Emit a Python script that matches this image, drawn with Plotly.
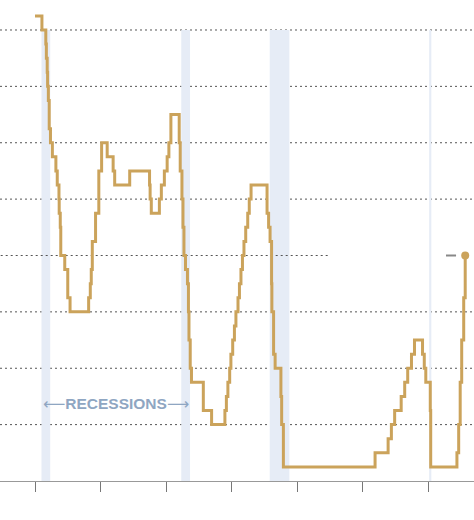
import plotly.graph_objects as go

# Federal funds target rate (upper bound), percent
dates = [
    "1990-01-01", "1990-07-13", "1990-10-29", "1990-11-13", "1990-12-07", "1990-12-18",
    "1991-01-08", "1991-02-01", "1991-03-08", "1991-04-30", "1991-08-06", "1991-09-13",
    "1991-10-31", "1991-11-06", "1991-12-06", "1991-12-20", "1992-04-09", "1992-07-02",
    "1992-09-04", "1994-02-04", "1994-03-22", "1994-04-18", "1994-05-17", "1994-08-16",
    "1994-11-15", "1995-02-01", "1995-07-06", "1995-12-19", "1996-01-31", "1997-03-25",
    "1998-09-29", "1998-10-15", "1998-11-17", "1999-06-30", "1999-08-24", "1999-11-16",
    "2000-02-02", "2000-03-21", "2000-05-16", "2001-01-03", "2001-01-31", "2001-03-20",
    "2001-04-18", "2001-05-15", "2001-06-27", "2001-08-21", "2001-09-17", "2001-10-02",
    "2001-11-06", "2001-12-11", "2002-11-06", "2003-06-25", "2004-06-30", "2004-08-10",
    "2004-09-21", "2004-11-10", "2004-12-14", "2005-02-02", "2005-03-22", "2005-05-03",
    "2005-06-30", "2005-08-09", "2005-09-20", "2005-11-01", "2005-12-13", "2006-01-31",
    "2006-03-28", "2006-05-10", "2006-06-29", "2007-09-18", "2007-10-31", "2007-12-11",
    "2008-01-22", "2008-01-30", "2008-03-18", "2008-04-30", "2008-10-08", "2008-10-29",
    "2008-12-16", "2015-12-16", "2016-12-14", "2017-03-15", "2017-06-14", "2017-12-13",
    "2018-03-21", "2018-06-13", "2018-09-26", "2018-12-19", "2019-07-31", "2019-09-18",
    "2019-10-30", "2020-03-03", "2020-03-15", "2022-03-16", "2022-05-04", "2022-06-15",
    "2022-07-27", "2022-09-21", "2022-11-02",
]
rates = [
    8.25, 8.0, 7.75, 7.5, 7.25, 7.0,
    6.75, 6.25, 6.0, 5.75, 5.5, 5.25,
    5.0, 4.75, 4.5, 4.0, 3.75, 3.25,
    3.0, 3.25, 3.5, 3.75, 4.25, 4.75,
    5.5, 6.0, 5.75, 5.5, 5.25, 5.5,
    5.25, 5.0, 4.75, 5.0, 5.25, 5.5,
    5.75, 6.0, 6.5, 6.0, 5.5, 5.0,
    4.5, 4.0, 3.75, 3.5, 3.0, 2.5,
    2.0, 1.75, 1.25, 1.0, 1.25, 1.5,
    1.75, 2.0, 2.25, 2.5, 2.75, 3.0,
    3.25, 3.5, 3.75, 4.0, 4.25, 4.5,
    4.75, 5.0, 5.25, 4.75, 4.5, 4.25,
    3.5, 3.0, 2.25, 2.0, 1.5, 1.0,
    0.25, 0.5, 0.75, 1.0, 1.25, 1.5,
    1.75, 2.0, 2.25, 2.5, 2.25, 2.0,
    1.75, 1.25, 0.25, 0.5, 1.0, 1.75,
    2.5, 3.25, 4.0,
]

recession_starts = ["1990-07-01", "2001-03-01", "2007-12-01", "2020-02-01"]
recession_ends = ["1991-03-01", "2001-11-01", "2009-06-01", "2020-04-01"]

grid_levels = [1, 2, 3, 4, 5, 6, 7, 8]
grid_ends = [None, None, None, "2012-05-15", None, None, None, None]
tick_years = ["1990-01-01", "1995-01-01", "2000-01-01", "2005-01-01",
              "2010-01-01", "2015-01-01", "2020-01-01"]

LINE = "#CBA35B"
BAND = "#E6ECF6"

fig = go.Figure()

fig.add_trace(go.Scatter(
    x=dates, y=rates, mode="lines", line=dict(color=LINE, width=3, shape="hv"),
    hoverinfo="skip", showlegend=False, cliponaxis=False,
))
fig.add_trace(go.Scatter(
    x=[dates[-1]], y=[rates[-1]], mode="markers",
    marker=dict(color=LINE, size=8), hoverinfo="skip", showlegend=False, cliponaxis=False,
))

shapes = []
for s, e in zip(recession_starts, recession_ends):
    shapes.append(dict(type="rect", xref="x", yref="y", x0=s, x1=e, y0=0, y1=8,
                       fillcolor=BAND, line=dict(width=0), layer="below"))
for lvl, end in zip(grid_levels, grid_ends):
    if end is None:
        shapes.append(dict(type="line", xref="paper", yref="y", x0=0, x1=1, y0=lvl, y1=lvl,
                           line=dict(color="#555555", width=1, dash="2px,3px"), layer="below"))
    else:
        shapes.append(dict(type="line", xref="x", yref="y", x0="1987-01-01", x1=end, y0=lvl, y1=lvl,
                           line=dict(color="#555555", width=1, dash="2px,3px"), layer="below"))
# small leader dash next to the latest value
shapes.append(dict(type="line", xref="x", yref="y", x0="2021-05-15", x1="2022-02-20",
                   y0=rates[-1], y1=rates[-1], line=dict(color="#888888", width=2)))

fig.update_layout(
    width=474, height=520,
    margin=dict(l=0, r=0, t=0, b=39),
    paper_bgcolor="white", plot_bgcolor="white",
    shapes=shapes,
    showlegend=False,
    xaxis=dict(
        type="date", range=["1987-05-01", "2023-07-05"],
        tickvals=tick_years, showticklabels=False,
        ticks="outside", ticklen=10, tickcolor="#777777", tickwidth=1,
        showline=True, linecolor="#999999", linewidth=1,
        showgrid=False, zeroline=False, fixedrange=True,
    ),
    yaxis=dict(
        range=[0, 8.532], showgrid=False, zeroline=False,
        showticklabels=False, showline=False, fixedrange=True,
    ),
    annotations=[dict(
        xref="x", yref="y", x="1996-03-01", y=1.37,
        text="⟵<b>RECESSIONS</b>⟶", showarrow=False,
        font=dict(family="Liberation Sans, Arial, DejaVu Sans", size=15.5, color="#8FA6C2"),
        xanchor="center", yanchor="middle",
    )],
)

fig.write_html(
    "out.html",
    config={"displayModeBar": False},
    post_script="document.body.style.margin='0';document.body.style.overflow='hidden';",
)
